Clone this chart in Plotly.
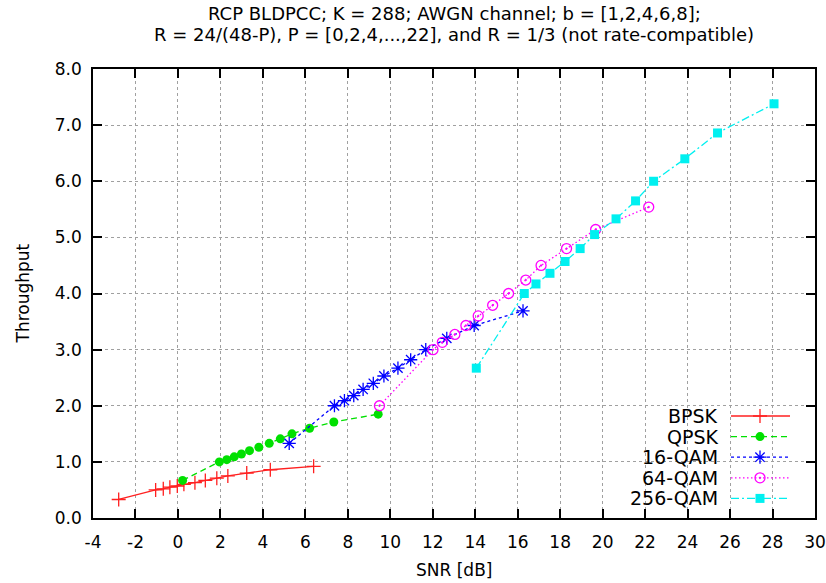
import plotly.graph_objects as go

# ---- data ----
snr_bpsk = [-2.79, -1.05, -0.69, -0.38, -0.03, 0.28, 0.80, 1.29, 1.83, 2.35, 3.24, 4.35, 6.39]
thr_bpsk = [0.33, 0.50, 0.52, 0.55, 0.57, 0.60, 0.63, 0.67, 0.71, 0.75, 0.80, 0.86, 0.92]

snr_qpsk = [0.22, 1.95, 2.30, 2.65, 2.99, 3.37, 3.81, 4.30, 4.82, 5.37, 6.20, 7.34, 9.43]
thr_qpsk = [0.67, 1.00, 1.04, 1.09, 1.14, 1.20, 1.26, 1.33, 1.41, 1.50, 1.60, 1.71, 1.85]

snr_16qam = [5.24, 7.37, 7.84, 8.28, 8.72, 9.20, 9.70, 10.36, 10.96, 11.67, 12.66, 13.95, 16.25]
thr_16qam = [1.33, 2.00, 2.09, 2.18, 2.29, 2.40, 2.53, 2.67, 2.82, 3.00, 3.20, 3.43, 3.69]

snr_64qam = [9.49, 12.01, 12.45, 13.04, 13.56, 14.14, 14.82, 15.57, 16.38, 17.10, 18.30, 19.67, 22.17]
thr_64qam = [2.00, 3.00, 3.13, 3.27, 3.43, 3.60, 3.79, 4.00, 4.24, 4.50, 4.80, 5.14, 5.54]

snr_256qam = [14.05, 16.31, 16.86, 17.52, 18.23, 18.94, 19.62, 20.63, 21.55, 22.40, 23.87, 25.41, 28.07]
thr_256qam = [2.67, 4.00, 4.17, 4.36, 4.57, 4.80, 5.05, 5.33, 5.65, 6.00, 6.40, 6.86, 7.38]

series_names = ["BPSK", "QPSK", "16-QAM", "64-QAM", "256-QAM"]
x_ticks = list(range(-4, 31, 2))
x_tick_labels = [str(v) for v in x_ticks]
y_ticks = [0, 1, 2, 3, 4, 5, 6, 7, 8]

title_line1 = "RCP BLDPCC; K = 288; AWGN channel; b = [1,2,4,6,8];"
title_line2 = "R = 24/(48-P), P = [0,2,4,...,22], and R = 1/3 (not rate-compatible)"
x_title = "SNR [dB]"
y_title = "Throughput"

# ---- styles ----
FONT = "DejaVu Sans"
W, H = 826, 583
ML, MR, MT, MB = 93, 11, 69, 65
styles = [
    dict(color="#ff2020", dash="solid", symbol="cross-thin-open", size=10, mlw=1.3),
    dict(color="#00e000", dash="6px,4px", symbol="circle", size=9, mlw=0),
    dict(color="#0000ff", dash="3px,3px", symbol="asterisk-open", size=11, mlw=1.3),
    dict(color="#ff00ff", dash="1.5px,2.5px", symbol="circle-open-dot", size=10, mlw=1.3),
    dict(color="#00f0f0", dash="8px,3px,2px,3px", symbol="square", size=9, mlw=0),
]
data = [(snr_bpsk, thr_bpsk), (snr_qpsk, thr_qpsk), (snr_16qam, thr_16qam),
        (snr_64qam, thr_64qam), (snr_256qam, thr_256qam)]

fig = go.Figure()
for (xs, ys), name, st in zip(data, series_names, styles):
    mk = dict(symbol=st["symbol"], size=st["size"], color=st["color"])
    if st["mlw"]:
        mk["line"] = dict(color=st["color"], width=st["mlw"])
    fig.add_trace(go.Scatter(x=xs, y=ys, name=name, mode="lines+markers",
                             line=dict(color=st["color"], width=1.3, dash=st["dash"]),
                             marker=mk, showlegend=False))

# ---- custom legend (text left of sample) on pixel overlay axes ----
PL, PR, PT, PB = ML, W - MR, MT, H - MB
LEG_TEXT_X = 719
LEG_L, LEG_R, LEG_M = 731, 790, 760
LEG_Y0, LEG_DY = 416, 20.6
for i, (name, st) in enumerate(zip(series_names, styles)):
    yy = LEG_Y0 + i * LEG_DY
    fig.add_trace(go.Scatter(x=[LEG_L, LEG_R], y=[yy, yy], mode="lines", xaxis="x2", yaxis="y2",
                             line=dict(color=st["color"], width=1.3, dash=st["dash"]),
                             showlegend=False, hoverinfo="skip"))
    mk = dict(symbol=st["symbol"], size=st["size"], color=st["color"])
    if st["mlw"]:
        mk["line"] = dict(color=st["color"], width=st["mlw"])
    fig.add_trace(go.Scatter(x=[LEG_M], y=[yy], mode="markers", xaxis="x2", yaxis="y2",
                             marker=mk, showlegend=False, hoverinfo="skip"))
    fig.add_annotation(x=LEG_TEXT_X, y=yy, xref="x2", yref="y2", text=name, showarrow=False,
                       xanchor="right", yanchor="middle", borderpad=0,
                       font=dict(family=FONT, size=19, color="black"))

axis_common = dict(showline=True, linecolor="black", linewidth=1.5, mirror="ticks",
                   ticks="inside", ticklen=9, tickwidth=1.5, tickcolor="black",
                   showgrid=True, gridcolor="#a0a0a0", gridwidth=1, griddash="dot",
                   zeroline=False, automargin=False,
                   tickfont=dict(family=FONT, size=17, color="black"))

fig.update_layout(
    width=W, height=H, margin=dict(l=ML, r=MR, t=MT, b=MB, autoexpand=False),
    paper_bgcolor="white", plot_bgcolor="white",
    xaxis=dict(range=[-4, 30], tickvals=x_ticks, ticktext=x_tick_labels, ticklabelstandoff=8, **axis_common),
    yaxis=dict(range=[0, 8], tickvals=y_ticks, tickformat=".1f", ticklabelstandoff=6, **axis_common),
    xaxis2=dict(overlaying="x", range=[PL, PR], visible=False, anchor="y2", automargin=False),
    yaxis2=dict(overlaying="y", range=[PB, PT], visible=False, anchor="x2", automargin=False),
    showlegend=False,
)

# titles
fig.add_annotation(x=0.5, y=1, xref="paper", yref="paper", yshift=56, text=title_line1, showarrow=False,
                   xanchor="center", yanchor="middle", borderpad=0, font=dict(family=FONT, size=18, color="black"))
fig.add_annotation(x=0.5, y=1, xref="paper", yref="paper", yshift=35, text=title_line2, showarrow=False,
                   xanchor="center", yanchor="middle", borderpad=0, font=dict(family=FONT, size=18, color="black"))
fig.add_annotation(x=0.5, y=0, xref="paper", yref="paper", yshift=-52, text=x_title, showarrow=False,
                   xanchor="center", yanchor="middle", font=dict(family=FONT, size=17, color="black"))
fig.add_annotation(x=0, y=0.5, xref="paper", yref="paper", xshift=-71, text=y_title, showarrow=False,
                   textangle=-90, xanchor="center", yanchor="middle", font=dict(family=FONT, size=17, color="black"))

fig.write_html("out.html")
